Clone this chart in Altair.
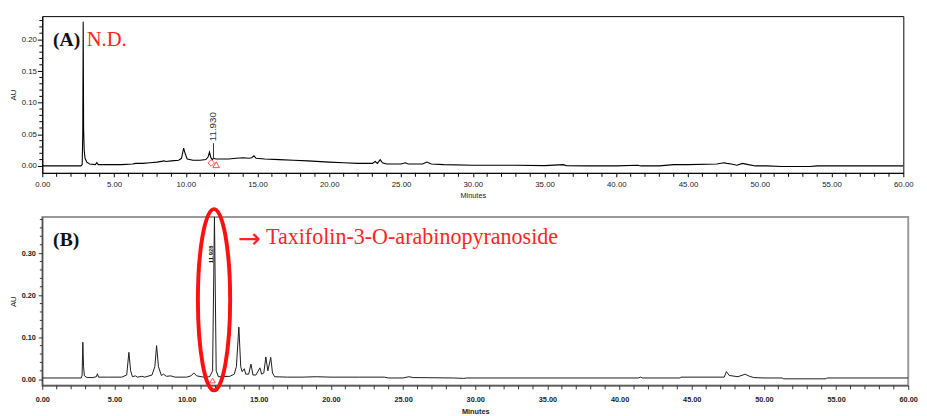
import altair as alt
import pandas as pd

# ---------------- data ----------------
# Panel (A): chromatogram, time (min) and absorbance (AU)
a_time = [0.0, 2.7, 2.78, 2.82, 2.85, 2.88, 2.92, 2.98, 3.1, 3.3, 3.7, 3.8, 3.9, 4.5, 5.5,
          6.3, 6.5, 7.0, 7.5, 8.0, 8.5, 8.6, 9.0, 9.5, 9.7, 9.85, 9.95, 10.1, 10.5, 11.0,
          11.4, 11.55, 11.65, 11.75, 11.85, 11.93, 12.1, 12.5, 13.0, 13.5, 14.0, 14.4, 14.6,
          14.75, 14.9, 15.5, 16.5, 17.5, 18.5, 20.0, 21.0, 22.0, 23.0, 23.2, 23.35, 23.55,
          23.7, 24.0, 25.0, 25.3, 25.5, 26.5, 26.8, 27.1, 28.0, 30.0, 33.0, 35.0, 36.3,
          36.5, 38.0, 40.0, 41.5, 41.7, 43.0, 44.0, 45.0, 47.0, 47.5, 47.7, 48.0, 48.4,
          48.8, 49.2, 49.7, 50.5, 51.5, 53.5, 54.0, 60.0]
a_au = [0.0, 0.0, 0.002, 0.05, 0.228, 0.06, 0.025, 0.012, 0.006, 0.003, 0.002, 0.005, 0.002,
        0.002, 0.002, 0.003, 0.004, 0.004, 0.005, 0.006, 0.008, 0.007, 0.008, 0.009, 0.012,
        0.028, 0.02, 0.011, 0.009, 0.009, 0.010, 0.014, 0.022, 0.013, 0.010, 0.012, 0.011,
        0.011, 0.011, 0.012, 0.013, 0.012, 0.013, 0.016, 0.012, 0.011, 0.010, 0.009, 0.008,
        0.006, 0.005, 0.004, 0.004, 0.007, 0.004, 0.010, 0.005, 0.003, 0.003, 0.005, 0.003,
        0.003, 0.006, 0.003, 0.002, 0.001, 0.001, 0.0005, 0.002, 0.0005, 0.0, 0.0, 0.001,
        0.0, 0.0, 0.002, 0.002, 0.003, 0.005, 0.004, 0.003, 0.001, 0.004, 0.002, 0.0, 0.0,
        -0.001, -0.001, 0.0, 0.0]

# Panel (B): chromatogram, time (min) and absorbance (AU)
b_time = [0.0, 2.7, 2.76, 2.81, 2.86, 2.92, 3.1, 3.5, 3.75, 3.82, 3.9, 4.5, 5.5, 5.85, 6.0,
          6.12, 6.25, 6.45, 6.6, 6.9, 7.1, 7.6, 7.8, 7.92, 8.05, 8.25, 8.4, 8.6, 8.9, 9.2,
          10.0, 10.3, 10.5, 10.7, 11.2, 11.6, 11.8, 11.93, 12.05, 12.2, 13.0, 13.3, 13.45,
          13.62, 13.75, 13.85, 14.0, 14.1, 14.3, 14.46, 14.6, 14.8, 15.08, 15.2, 15.35,
          15.49, 15.63, 15.83, 15.95, 16.1, 17.0, 18.0, 19.0, 20.0, 22.0, 23.7, 24.0, 25.0,
          25.4, 25.7, 28.5, 29.2, 29.4, 41.3, 41.45, 41.6, 44.2, 44.25, 47.25, 47.4, 47.6,
          48.2, 48.7, 49.0, 49.3, 50.0, 51.3, 51.35, 54.3, 54.35, 60.0]
b_au = [0.003, 0.003, 0.01, 0.088, 0.03, 0.008, 0.004, 0.004, 0.006, 0.013, 0.005, 0.005,
        0.005, 0.01, 0.064, 0.02, 0.006, 0.008, 0.005, 0.007, 0.005, 0.01, 0.03, 0.080, 0.03,
        0.009, 0.012, 0.007, 0.008, 0.005, 0.005, 0.008, 0.015, 0.008, 0.005, 0.006, 0.02,
        0.386, 0.02, 0.006, 0.007, 0.012, 0.03, 0.124, 0.03, 0.018, 0.025, 0.012, 0.012,
        0.036, 0.01, 0.01, 0.027, 0.012, 0.015, 0.053, 0.02, 0.052, 0.015, 0.006, 0.005,
        0.005, 0.006, 0.005, 0.005, 0.005, 0.003, 0.003, 0.006, 0.004, 0.003, 0.002, 0.003,
        0.003, 0.005, 0.003, 0.003, 0.005, 0.005, 0.018, 0.009, 0.006, 0.012, 0.007, 0.004,
        0.003, 0.003, 0.001, 0.001, 0.003, 0.003]

# tick values
x_major = [0, 5, 10, 15, 20, 25, 30, 35, 40, 45, 50, 55, 60]
x_minor = [t for t in range(0, 61) if t % 5 != 0]
a_y_major = [0.0, 0.05, 0.10, 0.15, 0.20]
a_y_minor = [i / 100 for i in range(0, 24) if i % 5 != 0]
b_y_major = [0.0, 0.10, 0.20, 0.30]
b_y_minor = [i / 50 for i in range(0, 20) if i % 5 != 0]

peak_label = "11.930"
peak_label_b = "11.928"
label_a = "(A)"
label_nd = "N.D."
label_b = "(B)"
label_arrow = "\u2192"
label_compound = "Taxifolin-3-O-arabinopyranoside"

SANS = "Liberation Sans"
SERIF = "Liberation Serif"
RED = "#ff2424"

df_a = pd.DataFrame({"t": a_time, "au": a_au})
df_b = pd.DataFrame({"t": b_time, "au": b_au})
one = pd.DataFrame({"k": [0]})

A_W, A_H = 879, 160
B_W, B_H = 884, 172

dx = alt.datum
dy = alt.datum

# ---------------- panel A ----------------
xa = alt.X("t:Q", scale=alt.Scale(domain=[0, 60], nice=False, zero=False),
           axis=alt.Axis(values=x_major, tickCount=40, format=".2f", title="Minutes",
                         tickSize=4, labelFontSize=8, titleFontSize=7.5, labelFont=SANS,
                         titleFont=SANS, titleFontWeight="normal", grid=False,
                         domainColor="black", tickColor="black", labelColor="#222",
                         titleColor="#222", labelPadding=4, titlePadding=3,
                         labelFlush=False, labelOverlap=False))
ya = alt.Y("au:Q", scale=alt.Scale(domain=[-0.011, 0.237], nice=False, zero=False),
           axis=alt.Axis(values=a_y_major, tickCount=20, format=".2f",
                         title="AU", tickSize=5, labelFontSize=8, titleFontSize=8,
                         labelFont=SANS, titleFont=SANS, titleFontWeight="normal", grid=False,
                         domainColor="black", tickColor="black", labelColor="#222",
                         titleColor="#222", labelPadding=1, titlePadding=4,
                         labelOverlap=False))

trace_a = alt.Chart(df_a).mark_line(color="black", strokeWidth=1.1, clip=True).encode(x=xa, y=ya)

minor_xa = alt.Chart(pd.DataFrame({"t": x_minor})).mark_rule(color="black", clip=False).encode(
    x=alt.X("t:Q"), y=alt.value(A_H), y2=alt.value(A_H + 4))
minor_ya = alt.Chart(pd.DataFrame({"au": a_y_minor})).mark_rule(color="black", clip=False).encode(
    y=alt.Y("au:Q"), x=alt.value(0), x2=alt.value(-3))

txt_a = alt.Chart(one).mark_text(font=SERIF, fontSize=20, fontWeight="bold", color="#111",
                                 align="left", baseline="alphabetic").encode(
    x=dx(0.75), y=dy(0.19), text=alt.value(label_a))
txt_nd = alt.Chart(one).mark_text(font=SERIF, fontSize=21, color=RED,
                                  align="left", baseline="alphabetic").encode(
    x=dx(3.1), y=dy(0.19), text=alt.value(label_nd))
pk_rule_a = alt.Chart(one).mark_rule(color="#333", strokeWidth=1).encode(
    x=dx(11.93), y=dy(0.011), y2=alt.datum(0.036))
pk_txt_a = alt.Chart(one).mark_text(font=SANS, fontSize=10, color="#2b3340", angle=270,
                                    align="left", baseline="middle").encode(
    x=dx(11.93), y=dy(0.039), text=alt.value(peak_label))
dia_a = alt.Chart(one).mark_point(shape="diamond", filled=False, color="red", size=45,
                                  strokeWidth=1).encode(x=dx(11.77), y=dy(0.0047))
tri_a = alt.Chart(one).mark_point(shape="triangle-up", filled=False, color="red", size=45,
                                  strokeWidth=1).encode(x=dx(12.12), y=dy(0.0018))

panel_a = alt.layer(trace_a, minor_xa, minor_ya, pk_rule_a, pk_txt_a, dia_a, tri_a,
                    txt_a, txt_nd).properties(
    width=A_W, height=A_H, view=alt.ViewBackground(stroke="black", strokeWidth=1))

# ---------------- panel B ----------------
xb = alt.X("t:Q", scale=alt.Scale(domain=[0, 60], nice=False, zero=False),
           axis=alt.Axis(values=x_major, tickCount=40, format=".2f", title="Minutes",
                         tickSize=4, labelFontSize=7.5, titleFontSize=7.5, labelFont=SANS,
                         titleFont=SANS, labelFontWeight="bold", titleFontWeight="bold",
                         grid=False, domainColor="#333", tickColor="#333", labelColor="#222",
                         titleColor="#222", labelPadding=6, titlePadding=5,
                         labelFlush=False, labelOverlap=False))
yb = alt.Y("au:Q", scale=alt.Scale(domain=[-0.0147, 0.386], nice=False, zero=False),
           axis=alt.Axis(values=b_y_major, tickCount=20, format=".2f",
                         title="AU", tickSize=4, labelFontSize=7.5, titleFontSize=8,
                         labelFont=SANS, titleFont=SANS, labelFontWeight="bold",
                         titleFontWeight="normal", grid=False, domainColor="#333",
                         tickColor="#333", labelColor="#222", titleColor="#222",
                         labelPadding=3, titlePadding=4, labelOverlap=False))

trace_b = alt.Chart(df_b).mark_line(color="#1a1a1a", strokeWidth=1, clip=True).encode(x=xb, y=yb)

minor_xb = alt.Chart(pd.DataFrame({"t": x_minor})).mark_rule(color="#333", clip=False).encode(
    x=alt.X("t:Q"), y=alt.value(B_H), y2=alt.value(B_H + 4))
minor_yb = alt.Chart(pd.DataFrame({"au": b_y_minor})).mark_rule(color="#333", clip=False).encode(
    y=alt.Y("au:Q"), x=alt.value(0), x2=alt.value(-2.5))

txt_b = alt.Chart(one).mark_text(font=SERIF, fontSize=20, fontWeight="bold", color="#111",
                                 align="left", baseline="alphabetic").encode(
    x=dx(0.75), y=dy(0.316), text=alt.value(label_b))
txt_arrow = alt.Chart(one).mark_text(font="DejaVu Sans", fontSize=28, color=RED,
                                     align="left", baseline="alphabetic").encode(
    x=dx(13.55), y=dy(0.313), text=alt.value(label_arrow))
txt_cmp = alt.Chart(one).mark_text(font=SERIF, fontSize=22.5, color=RED,
                                   align="left", baseline="alphabetic").encode(
    x=dx(15.5), y=dy(0.322), text=alt.value(label_compound))
pk_txt_b = alt.Chart(one).mark_text(font=SANS, fontSize=6, fontWeight="bold", color="#111",
                                    angle=270, align="left", baseline="middle").encode(
    x=dx(11.72), y=dy(0.276), text=alt.value(peak_label_b))
tri_b = alt.Chart(one).mark_point(shape="triangle-up", filled=False, color="red", size=30,
                                  strokeWidth=1).encode(x=dx(11.8), y=dy(-0.003))

k = 0.5523
rx = 0.178
ell_path = (f"M 0 -1 C {k*rx:.4f} -1 {rx} {-k} {rx} 0 "
            f"C {rx} {k} {k*rx:.4f} 1 0 1 "
            f"C {-k*rx:.4f} 1 {-rx} {k} {-rx} 0 "
            f"C {-rx} {-k} {-k*rx:.4f} -1 0 -1 Z")
ellipse = alt.Chart(one).mark_point(shape=ell_path, filled=False, color="#ff1010",
                                    strokeWidth=4, size=185 * 185, opacity=1,
                                    clip=False).encode(x=dx(11.9), y=dy(0.189))

panel_b = alt.layer(trace_b, minor_xb, minor_yb, pk_txt_b, tri_b, ellipse, txt_b,
                    txt_arrow, txt_cmp).properties(
    width=B_W, height=B_H, view=alt.ViewBackground(stroke="#999", strokeWidth=2))

chart = alt.vconcat(panel_a, panel_b, spacing=45, bounds="flush").properties(
    padding={"left": 0, "top": 3, "right": 0, "bottom": 0}
).configure(background="white").configure_axis(labelOverlap=False)

chart.save("out.html", embed_options={"renderer": "svg", "actions": False})
